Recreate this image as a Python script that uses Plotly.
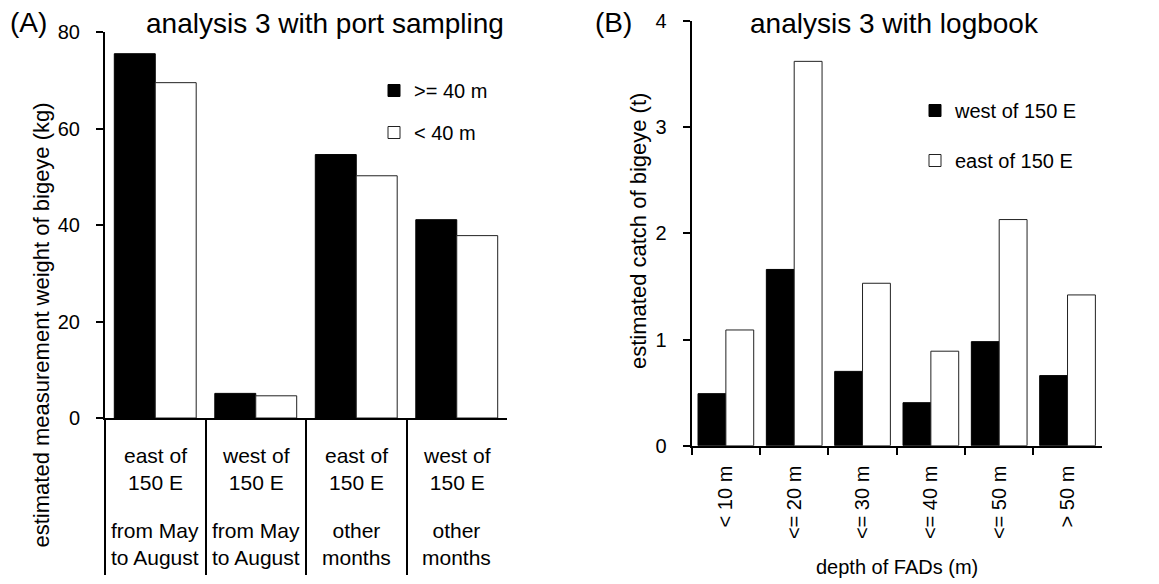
import plotly.graph_objects as go

# ---------------- data ----------------
# Panel A: port sampling
regions_A = ["east of 150 E", "west of 150 E", "east of 150 E", "west of 150 E"]
periods_A = ["from May to August", "from May to August", "other months", "other months"]
series_A_names = [">= 40 m", "< 40 m"]
ge40_A = [75.5, 5.1, 54.6, 41.1]
lt40_A = [69.5, 4.6, 50.2, 37.8]

# Panel B: logbook
depth_B = ["< 10 m", "<= 20 m", "<= 30 m", "<= 40 m", "<= 50 m", "> 50 m"]
series_B_names = ["west of 150 E", "east of 150 E"]
west_B = [0.49, 1.66, 0.70, 0.405, 0.98, 0.66]
east_B = [1.09, 3.62, 1.53, 0.89, 2.13, 1.42]

# ---------------- layout helpers ----------------
W, H = 1159, 584
FONT = "Liberation Sans, Arial, sans-serif"


def px_x(p):
    return p / W


def px_y(p):
    return 1 - p / H


cats_A = [f"{r} | {p}" for r, p in zip(regions_A, periods_A)]

fig = go.Figure()

fig.add_trace(go.Bar(x=cats_A, y=ge40_A, name=series_A_names[0], xaxis="x", yaxis="y",
                     marker=dict(color="black", line=dict(color="black", width=1)),
                     legend="legend", legendgroup="a1"))
fig.add_trace(go.Bar(x=cats_A, y=lt40_A, name=series_A_names[1], xaxis="x", yaxis="y",
                     marker=dict(color="white", line=dict(color="#222222", width=1)),
                     legend="legend", legendgroup="a2"))
fig.add_trace(go.Bar(x=depth_B, y=west_B, name=series_B_names[0], xaxis="x2", yaxis="y2",
                     marker=dict(color="black", line=dict(color="black", width=1)),
                     legend="legend2", legendgroup="b1"))
fig.add_trace(go.Bar(x=depth_B, y=east_B, name=series_B_names[1], xaxis="x2", yaxis="y2",
                     marker=dict(color="white", line=dict(color="#222222", width=1)),
                     legend="legend2", legendgroup="b2"))

axis_common = dict(showgrid=False, zeroline=False, showline=True, linecolor="black",
                   linewidth=2, ticks="outside", tickcolor="black", tickwidth=2,
                   automargin=False,
                   tickfont=dict(family=FONT, size=20, color="black"))

annotations = []
# category labels panel A (two blocks per category)
for c, r, p in zip(cats_A, regions_A, periods_A):
    annotations.append(dict(x=c, xref="x", y=px_y(469), yref="paper",
                            text=r.replace(" 150", "<br>150"), showarrow=False,
                            xanchor="center", yanchor="middle",
                            font=dict(family=FONT, size=21, color="black")))
    annotations.append(dict(x=c, xref="x", y=px_y(544), yref="paper",
                            text=p.replace("May to", "May<br>to").replace("other ", "other<br>"),
                            showarrow=False, xanchor="center", yanchor="middle",
                            font=dict(family=FONT, size=21, color="black")))

# titles and panel letters
annotations += [
    dict(x=px_x(8), y=px_y(22), xref="paper", yref="paper", text="(A)", showarrow=False,
         xanchor="left", yanchor="middle", font=dict(family=FONT, size=28, color="black")),
    dict(x=px_x(325), y=px_y(24), xref="paper", yref="paper", text="analysis 3 with port sampling",
         showarrow=False, xanchor="center", yanchor="middle",
         font=dict(family=FONT, size=28, color="black")),
    dict(x=px_x(593), y=px_y(22), xref="paper", yref="paper", text="(B)", showarrow=False,
         xanchor="left", yanchor="middle", font=dict(family=FONT, size=28, color="black")),
    dict(x=px_x(894), y=px_y(24), xref="paper", yref="paper", text="analysis 3 with logbook",
         showarrow=False, xanchor="center", yanchor="middle",
         font=dict(family=FONT, size=28, color="black")),
    dict(x=px_x(41), y=px_y(550), xref="paper", yref="paper",
         text="estimated measurement weight of bigeye (kg)", textangle=-90, showarrow=False,
         xanchor="center", yanchor="bottom", font=dict(family=FONT, size=22, color="black")),
    dict(x=px_x(638), y=px_y(231), xref="paper", yref="paper",
         text="estimated catch of bigeye (t)", textangle=-90, showarrow=False,
         xanchor="center", yanchor="middle", font=dict(family=FONT, size=22, color="black")),
    dict(x=px_x(897), y=px_y(567), xref="paper", yref="paper",
         text="depth of FADs (m)", showarrow=False,
         xanchor="center", yanchor="middle", font=dict(family=FONT, size=20, color="black")),
]

fig.update_layout(
    width=W, height=H,
    margin=dict(l=0, r=0, t=0, b=0, autoexpand=False),
    paper_bgcolor="white", plot_bgcolor="white",
    barmode="group", bargap=0.185, bargroupgap=0,
    font=dict(family=FONT, size=20, color="black"),
    xaxis=dict(axis_common, domain=[px_x(105), px_x(507)], anchor="y", type="category",
               tickson="boundaries", ticklen=155, showticklabels=False),
    yaxis=dict(axis_common, domain=[px_y(418), px_y(32)], anchor="x", range=[0, 80],
               dtick=20, ticklen=7, ticklabelstandoff=12),
    xaxis2=dict(axis_common, domain=[px_x(691.7), px_x(1101.7)], anchor="y2", type="category",
                tickson="boundaries", ticklen=7, tickangle=-90, ticklabelstandoff=10),
    yaxis2=dict(axis_common, domain=[px_y(445.7), px_y(21)], anchor="x2", range=[0, 4],
                dtick=1, ticklen=7, ticklabelstandoff=12),
    legend=dict(x=px_x(374), y=px_y(71), xanchor="left", yanchor="top",
                font=dict(family=FONT, size=20, color="black"), tracegroupgap=13,
                bgcolor="rgba(0,0,0,0)", borderwidth=0),
    legend2=dict(x=px_x(915), y=px_y(91), xanchor="left", yanchor="top",
                 font=dict(family=FONT, size=20, color="black"), tracegroupgap=21,
                 bgcolor="rgba(0,0,0,0)", borderwidth=0),
    annotations=annotations,
    showlegend=True,
)

fig.write_html("out.html", config={"displayModeBar": False},
               post_script="document.body.style.margin='0';")
